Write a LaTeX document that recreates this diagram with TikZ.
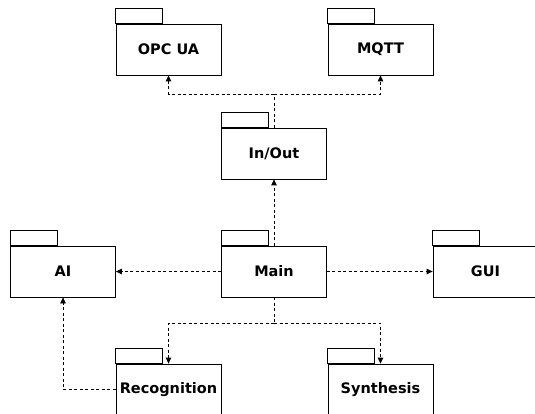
\documentclass[tikz,border=0pt]{standalone}
\usepackage{fontspec}
\setmainfont{DejaVu Sans}
\usetikzlibrary{arrows.meta}
\tikzset{
  pkg/.style={draw=black, line width=0.8pt, fill=white, minimum width=105pt, minimum height=51pt,
    inner sep=0pt, font=\fontsize{14.5}{17}\selectfont\bfseries},
  dep/.style={draw=black, line width=0.8pt, dash pattern=on 3pt off 2.5pt},
  tip/.style={-{Triangle[length=6pt,width=5.5pt]}}
}
\begin{document}
\begin{tikzpicture}[x=1pt,y=-1pt]
  \clip (0,0) rectangle (535,414);
  \fill[white] (0,0) rectangle (535,414);

  % package bodies
  \node[pkg] (opc)  at (168.5, 49.5)  {\raisebox{1.5pt}{OPC UA}};
  \node[pkg] (mqtt) at (380.5, 49.5)  {\raisebox{1.5pt}{MQTT}};
  \node[pkg] (io)   at (274, 153.5)   {\raisebox{1.5pt}{In/Out}};
  \node[pkg] (main) at (274, 271.5)   {\raisebox{1.5pt}{Main}};
  \node[pkg] (ai)   at (63, 271.5)    {\raisebox{1.5pt}{AI}};
  \node[pkg] (gui)  at (485.5, 271.5) {\raisebox{1.5pt}{GUI}};
  \node[pkg] (rec)  at (168.5, 389.5) {\raisebox{1.5pt}{Recognition}};
  \node[pkg] (syn)  at (380.5, 389.5) {\raisebox{1.5pt}{Synthesis}};

  % package tabs
  \foreach \n in {opc,mqtt,io,main,ai,gui,rec,syn}
    \draw[line width=0.8pt] (\n.north west) rectangle ++(47,-15);

  % In/Out uses both protocol packages
  \coordinate (iobus) at (274,94);
  \draw[dep] (io.north) -- (iobus);
  \draw[dep,tip] (iobus) -| (opc.south);
  \draw[dep,tip] (iobus) -| (mqtt.south);

  % Main dependencies
  \draw[dep,tip] (main.north) -- (io.south);
  \draw[dep,tip] (main.west) -- (ai.east);
  \draw[dep,tip] (main.east) -- (gui.west);

  \coordinate (mainbus) at (274,323);
  \draw[dep] (main.south) -- (mainbus);
  \draw[dep,tip] (mainbus) -| (rec.north);
  \draw[dep,tip] (mainbus) -| (syn.north);

  % Recognition uses AI
  \draw[dep,tip] (rec.west) -| (ai.south);
\end{tikzpicture}
\end{document}
